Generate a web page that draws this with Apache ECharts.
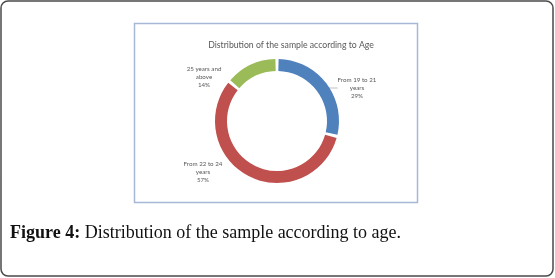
<!DOCTYPE html>
<html><head><meta charset="utf-8">
<script src="https://cdn.jsdelivr.net/npm/echarts@6/dist/echarts.min.js"></script>
<style>html,body{margin:0;padding:0;background:#fff}#c{width:555px;height:278px}</style>
</head><body><div id="c"></div>
<script>
const categories = ['From 19 to 21\nyears', 'From 22 to 24\nyears', '25 years and\nabove'];
const values = [29, 57, 14];
const percentLabels = ['29%', '57%', '14%'];
const colors = ['#4f81bd', '#c0504d', '#9bbb59'];
const labelPos = [[357, 88], [203, 172], [204, 77]];

const chart = echarts.init(document.getElementById('c'), null, {renderer: 'canvas'});
chart.setOption({
  animation: false,
  graphic: [
    {type: 'rect', shape: {x: 1, y: 1, width: 552, height: 275, r: 7}, style: {fill: '#fff', stroke: '#4a4a4a', lineWidth: 1.5}, z: -10},
    {type: 'rect', shape: {x: 134.5, y: 23.5, width: 283, height: 179}, style: {fill: '#fff', stroke: '#a6b8d6', lineWidth: 1.5}, z: -9},
    {type: 'text', left: 10, top: 224, style: {
      text: '{b|Figure 4:} Distribution of the sample according to age.',
      font: '18px "Liberation Serif"', fill: '#111',
      rich: {b: {fontWeight: 'bold', fontSize: 18, fontFamily: 'Liberation Serif', fill: '#111'}}
    }}
  ],
  title: {
    text: 'Distribution of the sample according to Age',
    left: 286, top: 36, textAlign: 'center',
    textStyle: {fontSize: 8.7, fontWeight: 'normal', color: '#595959', fontFamily: 'Lato'}
  },
  series: [{
    type: 'pie',
    center: [277, 121],
    radius: [50, 62],
    startAngle: 90,
    clockwise: true,
    padAngle: 3,
    itemStyle: {borderColor: '#fff', borderWidth: 0},
    data: values.map((v, i) => ({
      value: v, name: categories[i],
      itemStyle: {color: colors[i]},
      labelLine: {show: i === 0, lineStyle: {color: '#bfbfbf', width: 1}}
    })),
    label: {
      show: true, position: 'outside',
      formatter: p => p.name + '\n' + percentLabels[p.dataIndex],
      color: '#595959', fontSize: 6.2, lineHeight: 8, align: 'center',
      fontFamily: 'Lato'
    },
    labelLine: {length: 8, length2: 10},
    labelLayout: p => ({x: labelPos[p.dataIndex][0], y: labelPos[p.dataIndex][1], align: 'center', verticalAlign: 'middle'})
  }]
});
</script></body></html>
